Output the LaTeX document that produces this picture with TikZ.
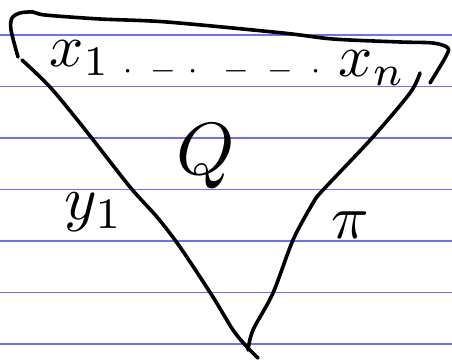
\documentclass[tikz,border=0pt]{standalone}
\usepackage{graphicx}
\begin{document}
\begin{tikzpicture}[x=1pt,y=-1pt,
  rule/.style={draw={rgb,255:red,110;green,110;blue,255},line width=1.3pt},
  stroke/.style={draw=black,line width=3.6pt,line cap=round,line join=round},
  lbl/.style={inner sep=0pt}]
\useasboundingbox (0,0) rectangle (452,359);
\fill[white] (0,0) rectangle (452,359);
\foreach \y in {35,86.5,138,189.5,241,292.5,344}
  \draw[rule] (0,\y) -- (452,\y);
% top edge with both upper corners
\draw[stroke] plot[smooth,tension=0.5] coordinates {(18,57) (11,30) (12,18) (20,13) (33,12) (45,15) (100,19) (167,22) (283,33) (333,39) (400,42) (433,43) (448,48) (445,58) (430,83)};
% left edge
\draw[stroke] plot[smooth,tension=0.5] coordinates {(22,60) (50,87) (83,127) (130,187) (157,217) (180,247) (213,297) (233,330) (247,347) (258,358)};
% right edge
\draw[stroke] plot[smooth,tension=0.5] coordinates {(420,73) (410,93) (372,138) (323,190) (313,203) (293,240) (273,293) (253,330) (248,350)};
% labels
\node[lbl] (x1) at (80,58) {\scalebox{6}{$x_1$}};
\node[lbl] (dots) at (222,71) {\scalebox{3.3}{$\cdot\;\;{-}\,\cdot\;\;{-}\;\;{-}\;\;\cdot$}};
\node[lbl] (xn) at (372,68) {\scalebox{6}{$x_n$}};
\node[lbl] (Q) at (206,156) {\scalebox{7.4}{$Q$}};
\node[lbl] (y1) at (94,212) {\scalebox{6.2}{$y_1$}};
\node[lbl] (pi) at (350,225) {\scalebox{6.2}{$\pi$}};
\end{tikzpicture}
\end{document}
